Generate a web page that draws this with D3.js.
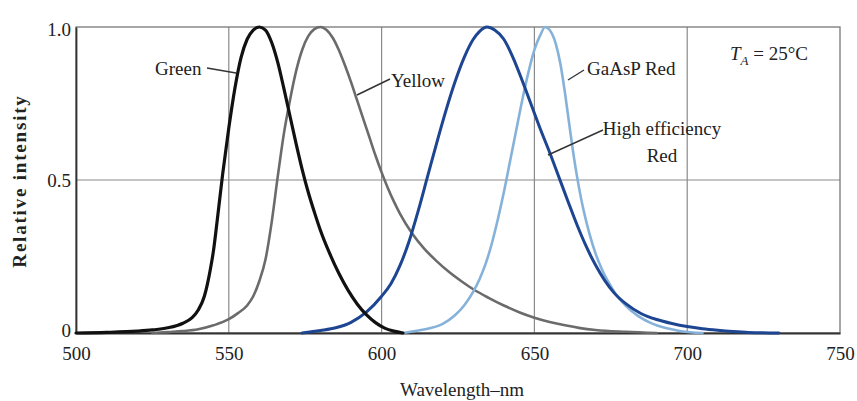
<!DOCTYPE html>
<html>
<head>
<meta charset="utf-8">
<script src="https://cdn.jsdelivr.net/npm/d3@7"></script>
<style>
  body { margin: 0; background: #fff; }
  text { font-family: "Liberation Serif", "Times New Roman", serif; fill: #222; }
</style>
</head>
<body>
<svg id="chart" width="857" height="401"></svg>
<script>
    // wavelength (nm) and relative intensity
    var greenWl  = [500, 510, 520, 525, 530, 535, 538, 540, 542, 543, 544, 545, 546, 548, 550, 552, 554, 556, 558, 560, 562, 564, 566, 568, 570, 572, 574, 576, 578, 580, 583, 586, 589, 592, 595, 598, 601, 604, 607];
    var greenRel = [0, 0.002, 0.006, 0.01, 0.017, 0.032, 0.05, 0.075, 0.12, 0.16, 0.21, 0.27, 0.35, 0.52, 0.67, 0.8, 0.9, 0.96, 0.99, 1.0, 0.99, 0.95, 0.885, 0.8, 0.71, 0.62, 0.535, 0.46, 0.395, 0.335, 0.26, 0.195, 0.14, 0.095, 0.06, 0.034, 0.016, 0.006, 0];

    var yellowWl  = [525, 530, 535, 540, 545, 550, 553, 556, 558, 560, 562, 564, 566, 568, 570, 572, 574, 576, 578, 580, 582, 584, 586, 588, 590, 592, 594, 596, 598, 600, 602, 604, 606, 610, 614, 618, 622, 626, 630, 635, 640, 645, 650, 655, 660, 665, 670, 680, 690];
    var yellowRel = [0, 0.003, 0.006, 0.012, 0.025, 0.045, 0.065, 0.09, 0.12, 0.17, 0.24, 0.36, 0.51, 0.65, 0.76, 0.855, 0.925, 0.97, 0.993, 1.0, 0.99, 0.965, 0.925, 0.875, 0.82, 0.76, 0.7, 0.64, 0.58, 0.525, 0.475, 0.43, 0.39, 0.325, 0.275, 0.235, 0.2, 0.17, 0.143, 0.115, 0.09, 0.068, 0.05, 0.036, 0.025, 0.016, 0.01, 0.004, 0];

    var heRedWl  = [574, 580, 585, 590, 595, 600, 603, 606, 609, 612, 615, 618, 621, 624, 627, 630, 632, 634.5, 637, 640, 643, 646, 649, 652, 655, 658, 661, 664, 667, 670, 673, 676, 680, 685, 690, 695, 700, 705, 710, 715, 720, 730];
    var heRedRel = [0, 0.008, 0.017, 0.035, 0.068, 0.12, 0.16, 0.22, 0.3, 0.4, 0.51, 0.62, 0.725, 0.82, 0.9, 0.96, 0.985, 1.0, 0.99, 0.96, 0.9, 0.825, 0.745, 0.665, 0.59, 0.51, 0.43, 0.352, 0.282, 0.222, 0.172, 0.132, 0.095, 0.063, 0.044, 0.031, 0.021, 0.014, 0.009, 0.005, 0.002, 0];

    var gaaspWl  = [607, 612, 616, 620, 624, 627, 630, 632, 634, 636, 638, 640, 642, 644, 646, 648, 650, 652, 653.5, 655, 657, 658.5, 660, 661.5, 663, 664.5, 666, 668, 670, 672, 674, 677, 680, 684, 688, 693, 698, 705];
    var gaaspRel = [0, 0.008, 0.016, 0.03, 0.058, 0.09, 0.135, 0.175, 0.225, 0.29, 0.37, 0.46, 0.56, 0.66, 0.76, 0.85, 0.925, 0.975, 1.0, 0.99, 0.945, 0.88, 0.785, 0.675, 0.57, 0.48, 0.405, 0.325, 0.26, 0.21, 0.17, 0.122, 0.088, 0.055, 0.033, 0.016, 0.006, 0];

    var xTicks = [500, 550, 600, 650, 700, 750];
    var yTicks = [0, 0.5, 1.0];
    var yTickLabels = ["0", "0.5", "1.0"];

    var svg = d3.select("#chart");

    var x = d3.scaleLinear().domain([500, 750]).range([76, 840]);
    var y = d3.scaleLinear().domain([0, 1]).range([333, 27]);

    // grid
    svg.append("g")
      .selectAll("line")
      .data(xTicks.slice(1, -1))
      .enter().append("line")
        .attr("x1", function(d) { return x(d); })
        .attr("x2", function(d) { return x(d); })
        .attr("y1", y(1)).attr("y2", y(0))
        .attr("stroke", "#8a8a8a").attr("stroke-width", 1.2);

    svg.append("line")
      .attr("x1", x(500)).attr("x2", x(750))
      .attr("y1", y(0.5)).attr("y2", y(0.5))
      .attr("stroke", "#8a8a8a").attr("stroke-width", 1.2);

    // frame
    svg.append("rect")
      .attr("x", x(500)).attr("y", y(1))
      .attr("width", x(750) - x(500)).attr("height", y(0) - y(1))
      .attr("fill", "none").attr("stroke", "#777").attr("stroke-width", 1.3);

    // axes (labels only, the frame carries the lines)
    var xAxis = d3.axisBottom(x).tickValues(xTicks).tickSize(0).tickPadding(14).tickFormat(d3.format("d"));
    var gx = svg.append("g").attr("transform", "translate(0," + y(0) + ")").call(xAxis);
    gx.select(".domain").attr("stroke", "#333").attr("stroke-width", 1.8);
    gx.selectAll("text").style("font-size", "19px").attr("fill", "#222").style("font-family", "Liberation Serif");

    var yAxis = d3.axisLeft(y).tickValues(yTicks).tickSize(0).tickPadding(5)
      .tickFormat(function(d, i) { return yTickLabels[i]; });
    var gy = svg.append("g").attr("transform", "translate(" + x(500) + ",0)").call(yAxis);
    gy.select(".domain").attr("stroke", "#333").attr("stroke-width", 1.8);
    gy.selectAll("text").style("font-size", "19px").attr("fill", "#222").style("font-family", "Liberation Serif")
      .attr("dy", function(d) { return d === 1 ? "0.45em" : (d === 0 ? "0.2em" : "0.32em"); });

    // axis titles
    svg.append("text")
      .attr("transform", "translate(26," + 181 + ") rotate(-90)")
      .attr("text-anchor", "middle")
      .style("font-size", "19px").style("font-weight", "bold").style("letter-spacing", "1.8px")
      .text("Relative intensity");

    svg.append("text")
      .attr("x", 462).attr("y", 396)
      .attr("text-anchor", "middle")
      .style("font-size", "19px")
      .text("Wavelength–nm");

    // curves
    var line = d3.line()
      .x(function(d) { return x(d[0]); })
      .y(function(d) { return y(d[1]); })
      .curve(d3.curveMonotoneX);

    var series = [
      { wl: yellowWl, rel: yellowRel, color: "#6b6b6b", width: 2.6 },
      { wl: gaaspWl, rel: gaaspRel, color: "#86b2da", width: 2.6 },
      { wl: heRedWl, rel: heRedRel, color: "#1d4592", width: 3 },
      { wl: greenWl, rel: greenRel, color: "#111", width: 3.2 }
    ];

    svg.append("g")
      .selectAll("path")
      .data(series)
      .enter().append("path")
        .attr("d", function(s) { return line(d3.zip(s.wl, s.rel)); })
        .attr("fill", "none")
        .attr("stroke", function(s) { return s.color; })
        .attr("stroke-width", function(s) { return s.width; })
        .attr("stroke-linejoin", "round")
        .attr("stroke-linecap", "round");

    // labels with pointer lines
    function label(txt, tx, ty, anchor) {
      return svg.append("text").attr("x", tx).attr("y", ty)
        .attr("text-anchor", anchor || "start")
        .style("font-size", "19px").text(txt);
    }
    function pointer(x1, y1, x2, y2) {
      svg.append("line").attr("x1", x1).attr("y1", y1).attr("x2", x2).attr("y2", y2)
        .attr("stroke", "#333").attr("stroke-width", 1.4);
    }

    label("Green", 155, 75);
    pointer(207, 68, 236, 73);

    label("Yellow", 391, 87);
    pointer(390, 79, 357, 95);

    label("GaAsP Red", 587, 75);
    pointer(584, 70, 568, 80);

    label("High efficiency", 662, 135, "middle");
    label("Red", 662, 162, "middle");
    pointer(603, 130, 548, 155);

    var ta = svg.append("text").attr("x", 730).attr("y", 60).style("font-size", "19px");
    ta.append("tspan").style("font-style", "italic").text("T");
    ta.append("tspan").style("font-style", "italic").style("font-size", "13px").attr("dy", 5).text("A");
    ta.append("tspan").attr("dy", -5).text(" = 25°C");
</script>
</body>
</html>
